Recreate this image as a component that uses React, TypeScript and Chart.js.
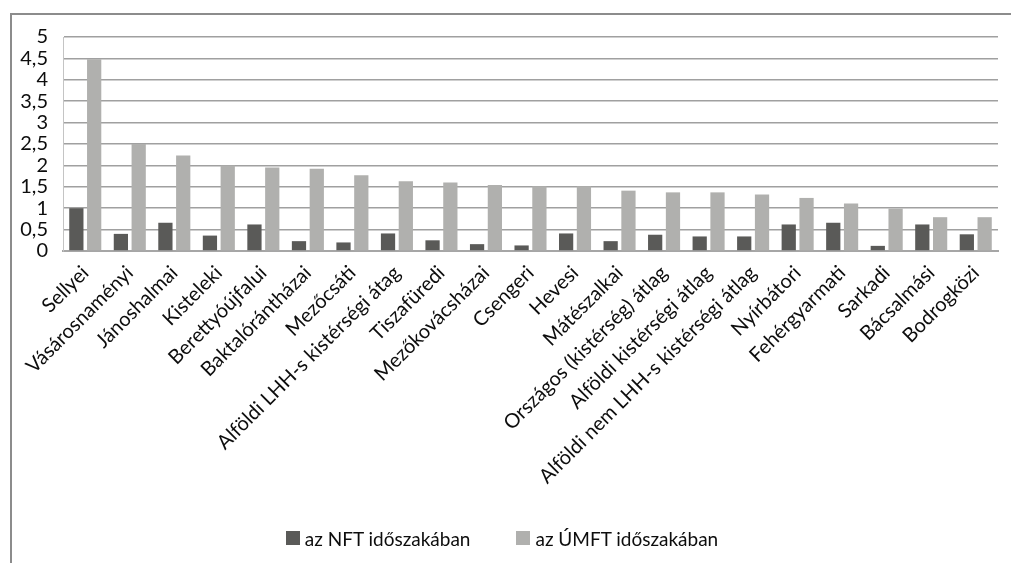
import React, { useEffect, useRef } from "react";
import { Chart, registerables } from "chart.js";

Chart.register(...registerables);

const categories = [
  "Sellyei",
  "Vásárosnaményi",
  "Jánoshalmai",
  "Kisteleki",
  "Berettyóújfalui",
  "Baktalórántházai",
  "Mezőcsáti",
  "Alföldi LHH-s kistérségi átag",
  "Tiszafüredi",
  "Mezőkovácsházai",
  "Csengeri",
  "Hevesi",
  "Mátészalkai",
  "Országos (kistérség) átlag",
  "Alföldi kistérségi átlag",
  "Alföldi nem LHH-s kistérségi átlag",
  "Nyírbátori",
  "Fehérgyarmati",
  "Sarkadi",
  "Bácsalmási",
  "Bodrogközi",
];

const nftValues = [1.0, 0.4, 0.66, 0.36, 0.62, 0.23, 0.2, 0.41, 0.25, 0.16, 0.13, 0.41, 0.23, 0.38, 0.34, 0.34, 0.62, 0.66, 0.12, 0.62, 0.39];
const umftValues = [4.48, 2.5, 2.23, 2.0, 1.95, 1.92, 1.77, 1.63, 1.6, 1.54, 1.51, 1.51, 1.41, 1.37, 1.37, 1.32, 1.24, 1.11, 0.99, 0.79, 0.79];

const seriesNames = ["az NFT időszakában", "az ÚMFT időszakában"];
const seriesColors = ["#5a5a58", "#b0b0ae"];
const yMin = 0;
const yMax = 5;
const yStep = 0.5;

const FONT = "Lato, 'Noto Sans', sans-serif";

export default function App() {
  const canvasRef = useRef<HTMLCanvasElement | null>(null);

  useEffect(() => {
    if (!canvasRef.current) return;
    const chart = new Chart(canvasRef.current, {
      type: "bar",
      data: {
        labels: categories,
        datasets: [
          {
            label: seriesNames[0],
            data: nftValues,
            backgroundColor: seriesColors[0],
            borderWidth: 0,
            categoryPercentage: 0.8,
            barPercentage: 0.8,
          },
          {
            label: seriesNames[1],
            data: umftValues,
            backgroundColor: seriesColors[1],
            borderWidth: 0,
            categoryPercentage: 0.8,
            barPercentage: 0.8,
          },
        ],
      },
      options: {
        animation: false,
        responsive: true,
        maintainAspectRatio: false,
        layout: { padding: { left: 12, top: 37, right: 13, bottom: 6 } },
        plugins: {
          tooltip: { enabled: false },
          legend: { display: false },
        },
        scales: {
          x: {
            grid: { display: false, drawTicks: false },
            border: { display: true, color: "#a6a6a6", width: 2 },
            ticks: {
              autoSkip: false,
              maxRotation: 45,
              minRotation: 45,
              padding: 10,
              color: "#0d0d0d",
              font: { family: FONT, size: 20 },
            },
            afterFit: (scale: any) => {
              scale.height = 306;
            },
          },
          y: {
            min: yMin,
            max: yMax,
            grid: { color: "#a0a0a0", lineWidth: 1.5, drawTicks: false },
            border: { display: true, color: "#c4c4c4", width: 1 },
            ticks: {
              stepSize: yStep,
              autoSkip: false,
              padding: 15,
              color: "#0d0d0d",
              font: { family: FONT, size: 20, lineHeight: 1 },
              callback: (v: any) => String(v).replace(".", ","),
            },
            afterFit: (scale: any) => {
              scale.width = 51;
            },
          },
        },
      },
    });
    return () => chart.destroy();
  }, []);

  return (
    <div
      style={{
        position: "absolute",
        left: 0,
        top: 0,
        width: 1011,
        height: 563,
        background: "#ffffff",
        overflow: "hidden",
      }}
    >
      <div
        style={{
          position: "absolute",
          left: 10,
          top: 13,
          width: 1100,
          height: 700,
          borderLeft: "2px solid #8c8c8c",
          borderTop: "2px solid #8c8c8c",
        }}
      />
      <div style={{ position: "absolute", left: 0, top: 0, width: 1011, height: 563 }}>
        <canvas ref={canvasRef} />
      </div>
      <div
        style={{
          position: "absolute",
          left: 0,
          top: 526,
          width: 1004,
          height: 24,
          display: "flex",
          justifyContent: "center",
          alignItems: "center",
          fontFamily: FONT,
          fontSize: 19,
          color: "#0d0d0d",
          gap: 46,
        }}
      >
        {seriesNames.map((name, i) => (
          <div key={name} style={{ display: "flex", alignItems: "center", gap: 5 }}>
            <span style={{ width: 14, height: 14, background: seriesColors[i], display: "inline-block" }} />
            <span>{name}</span>
          </div>
        ))}
      </div>
    </div>
  );
}
